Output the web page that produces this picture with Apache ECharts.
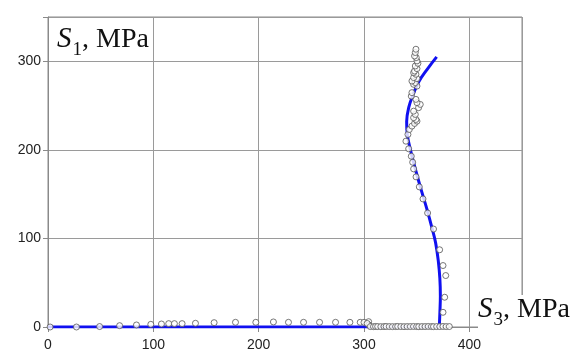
<!DOCTYPE html>
<html><head><meta charset="utf-8">
<script src="https://cdn.jsdelivr.net/npm/echarts@6/dist/echarts.min.js"></script>
<style>html,body{margin:0;padding:0;background:#fff}#c{width:581px;height:360px}</style>
</head><body><div id="c"></div>
<script>
// Axis ticks
var xTicks = [0, 100, 200, 300, 400];
var yTicks = [0, 100, 200, 300];

// Model line: flat branch along S1=0 and rising branch
var flatLine = [[0, 0], [371.5, 0]];
var curveLine = [[371.5, 0], [372, 15], [372.5, 35], [372, 55], [370.5, 75], [368, 95], [364.5, 112],
  [360, 132], [355, 152], [349.5, 175], [344.5, 198], [341, 218], [340.5, 232], [342.5, 248],
  [346.5, 262], [352, 277], [360, 291], [369, 305]];

// Experimental points
var lowBranchPts = [[2, 0], [27, 0], [49, 0.5], [68, 1.5], [84, 2.3], [97.6, 3], [107.7, 3.4], [114.6, 3.8],
  [120, 3.8], [127.3, 3.8], [140, 4.2], [157.7, 4.9], [178, 5.3], [197.3, 5.3], [214, 5.7], [228.3, 5.3],
  [242.6, 5.3], [257.8, 5.3], [273, 5.3], [286.6, 5.3], [296.4, 5.3], [300, 5.3], [304.4, 6], [304.7, 2.3], [303, 4]];
var bottomClusterPts = [[306, 0.5], [309, 0.4], [311, 0.6], [313, 0.5], [316, 0.4], [319, 0.5], [321, 0.6],
  [324, 0.5], [327, 0.4], [330, 0.5], [332, 0.6], [335, 0.5], [338, 0.4], [341, 0.5], [344, 0.5], [347, 0.6],
  [350, 0.5], [352, 0.4], [355, 0.5], [358, 0.5], [361, 0.6], [364, 0.5], [366, 0.4], [369, 0.5], [372, 0.5],
  [375, 0.6], [378, 0.5], [381, 0.5]];
var risingPts = [[375, 16.6], [376.6, 33.6], [377.6, 58.1], [375, 69.4], [371.8, 87.2], [366, 110.6],
  [360.4, 128.7], [356, 144.6], [352.5, 158.2], [349.4, 169.5], [347.1, 178.5], [346.2, 186], [344.9, 192.8],
  [342.4, 201.2], [339.8, 209.8], [341.7, 217.4], [343, 223], [345.5, 226.8], [348, 229.8], [350.3, 232.4]];
var topClusterPts = [[349.3, 234.3], [347.1, 236.3], [348.7, 240], [347.1, 243.7], [351.8, 247.6], [353.4, 251.3],
  [350.3, 253.3], [349.3, 257], [344.9, 260.7], [345.5, 264.6], [350.3, 272], [347.1, 274], [348.7, 275.9],
  [345.5, 277.7], [350.3, 280.4], [347.1, 281.6], [349.3, 285.3], [347.1, 287.2], [348, 289], [350.3, 291.7],
  [348.7, 294.7], [351.2, 297.7], [350.3, 300.4], [349.6, 304.2], [348, 306], [348.7, 309.9], [349.3, 313.6]];

var allPts = lowBranchPts.concat(bottomClusterPts, risingPts, topClusterPts);

var chart = echarts.init(document.getElementById('c'), null, {renderer: 'canvas'});
var gridColor = '#9a9a9a';
var labelStyle = {color: '#222', fontFamily: 'Liberation Sans, Arial, sans-serif', fontSize: 14};
var serif = 'Liberation Serif, Times New Roman, serif';
function axisRich() {
  return {
    s: {fontFamily: serif, fontStyle: 'italic', fontWeight: 'normal', fontSize: 29, color: '#111', verticalAlign: 'bottom', lineHeight: 34},
    sub: {fontFamily: serif, fontWeight: 'normal', fontSize: 19, color: '#111', verticalAlign: 'bottom', lineHeight: 34, padding: [0, 0, -6, 1]},
    n: {fontFamily: serif, fontWeight: 'normal', fontSize: 28, color: '#111', verticalAlign: 'bottom', lineHeight: 34}
  };
}
chart.setOption({
  animation: false,
  backgroundColor: '#fff',
  grid: {left: 48, top: 17, right: 59, bottom: 33, show: true, borderColor: '#8a8a8a', borderWidth: 1},
  xAxis: {
    type: 'value', min: 0, max: 450, interval: 100,
    axisLine: {show: true, onZero: false, lineStyle: {color: '#8a8a8a'}},
    axisTick: {show: true, length: 5, lineStyle: {color: '#8a8a8a'}},
    axisLabel: Object.assign({margin: 11, formatter: function (v) { return xTicks.indexOf(v) >= 0 ? String(v) : ''; }}, labelStyle),
    splitLine: {show: true, lineStyle: {color: gridColor, width: 1}}
  },
  yAxis: {
    type: 'value', min: 0, max: 350, interval: 100,
    axisLine: {show: true, onZero: false, lineStyle: {color: '#8a8a8a'}},
    axisTick: {show: true, length: 5, lineStyle: {color: '#8a8a8a'}},
    axisLabel: Object.assign({margin: 7, formatter: function (v) { return yTicks.indexOf(v) >= 0 ? String(v) : ''; }}, labelStyle),
    splitLine: {show: true, lineStyle: {color: gridColor, width: 1}}
  },
  title: [{
    left: 57, top: 20, padding: 0,
    text: '{s|S}{sub|1}{n|, MPa}',
    textStyle: {fontWeight: 'normal', rich: axisRich()}
  }, {
    left: 478, top: 290, padding: [0, 2, 4, 0], backgroundColor: '#fff',
    text: '{s|S}{sub|3}{n|, MPa}',
    textStyle: {fontWeight: 'normal', rich: axisRich()}
  }],
  series: [{
    type: 'line', data: flatLine, showSymbol: false, symbol: 'none', z: 2,
    lineStyle: {color: '#1010f0', width: 3}
  }, {
    type: 'line', data: curveLine, smooth: 0.4, showSymbol: false, symbol: 'none', z: 2,
    lineStyle: {color: '#1010f0', width: 3}
  }, {
    type: 'scatter', data: allPts, symbol: 'circle', symbolSize: 6, z: 3,
    itemStyle: {color: '#fff', borderColor: '#555', borderWidth: 1}
  }]
});
</script>
</body></html>
